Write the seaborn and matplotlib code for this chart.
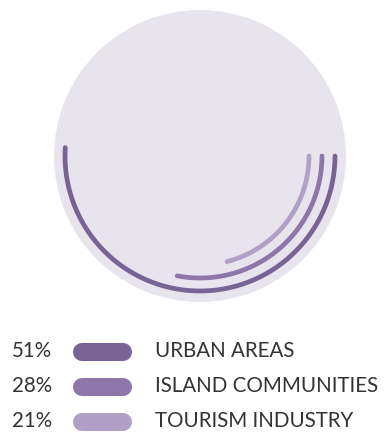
import numpy as np
import pandas as pd
import matplotlib
matplotlib.use("Agg")
import matplotlib.pyplot as plt
import seaborn as sns

# Share of each segment, in percent
categories = ["URBAN AREAS", "ISLAND COMMUNITIES", "TOURISM INDUSTRY"]
shares = [51, 28, 21]
colors = ["#786494", "#8c76aa", "#b0a0c6"]

sns.set_theme(style="white")
plt.rcParams["font.family"] = ["Lato", "DejaVu Sans"]

W, H, DPI = 390, 433, 100
fig = plt.figure(figsize=(W / DPI, H / DPI), dpi=DPI)
fig.patch.set_facecolor("white")

# Radial bars: one arc per category, clockwise from 3 o'clock
cx, cy, R = 200, 156, 146
ax = fig.add_axes([(cx - R) / W, (H - cy - R) / H, 2 * R / W, 2 * R / H],
                  projection="polar")
ax.set_facecolor("#e8e4ed")
ax.set_theta_zero_location("E")
ax.set_theta_direction(-1)
ax.set_ylim(0, R)
ax.grid(False)
ax.set_xticks([])
ax.set_yticks([])
ax.spines["polar"].set_visible(False)

radii = [135, 122, 109]
arc_rows = []
for cat, share, r in zip(categories, shares, radii):
    theta = np.linspace(0, 2 * np.pi * share / 100, 200)
    arc_rows.append(pd.DataFrame({"theta": theta, "r": r, "category": cat}))
arcs = pd.concat(arc_rows, ignore_index=True)
sns.lineplot(data=arcs, x="theta", y="r", hue="category", palette=colors,
             hue_order=categories, linewidth=3.4, sort=False, legend=False,
             ax=ax, solid_capstyle="round", estimator=None)
ax.set_xlabel("")
ax.set_ylabel("")

# Legend rows: percent, rounded swatch, label
lax = fig.add_axes([0, 0, 1, 1], facecolor="none")
row_y = [351, 386, 421]
legend_df = pd.DataFrame({"category": categories, "share": shares, "y": row_y})
for _, row in legend_df.iterrows():
    sw = pd.DataFrame({"x": [82, 123], "y": [row["y"] + 1, row["y"] + 1]})
    sns.lineplot(data=sw, x="x", y="y", ax=lax, linewidth=13,
                 color=colors[categories.index(row["category"])],
                 solid_capstyle="round", legend=False)
    lax.text(12, row["y"], f"{row['share']}%", fontsize=14.8, color="#333333",
             va="center", ha="left")
    lax.text(155, row["y"], row["category"], fontsize=14.8, color="#333333",
             va="center", ha="left")
lax.set_xlim(0, W)
lax.set_ylim(H, 0)
lax.axis("off")

fig.savefig("out.png", dpi=DPI, facecolor="white")
